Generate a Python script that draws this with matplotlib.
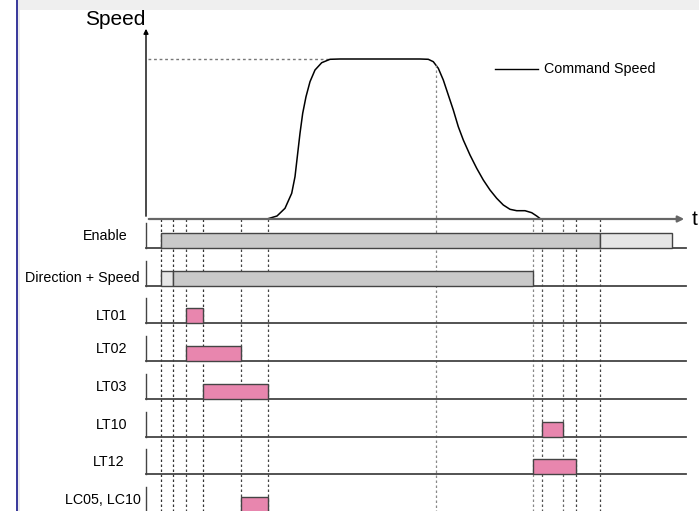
import numpy as np
import matplotlib.pyplot as plt
from matplotlib.patches import Rectangle

plt.rcParams['font.family'] = ['Liberation Sans', 'DejaVu Sans']

# ------------ Data ------------ #

# time events (vertical dotted markers)
events = [15, 27, 40, 57, 95, 122, 290, 387, 396, 417, 430, 454]
event_tops = [0, 0, 0, 0, 0, 0, 154, 0, 0, 0, 0, 0]

# command speed profile
speed_t = [121, 131, 139, 145.7, 149, 151.3, 154, 156.7, 160, 164, 169, 175.7, 184, 194,
           274, 282.3, 287.3, 292.3, 297.3, 302.3, 307.3, 312.3, 317.3, 324, 330.7, 337.3,
           344, 350.7, 357.3, 364, 370.7, 379, 385.7, 390.7, 394.7]
speed_v = [0, 3, 10.7, 25.7, 42.3, 62.3, 85.7, 105.7, 122.3, 137.3, 149, 156.3, 159.7, 160,
           160, 159.7, 157.3, 150.7, 139, 124, 109, 92.3, 79, 64, 50.7, 39,
           29, 20.7, 14, 9.7, 8.3, 8.3, 6.3, 3, 0]
v_max = 160

rows = ["Enable", "Direction + Speed", "LT01", "LT02", "LT03", "LT10", "LT12", "LC05, LC10"]

# (row, start, end, kind)
bars = [
    (0, 15, 454, "on"),
    (0, 454, 526, "off"),
    (1, 15, 27, "off"),
    (1, 27, 387, "on"),
    (2, 40, 57, "pulse"),
    (3, 40, 95, "pulse"),
    (4, 57, 122, "pulse"),
    (5, 396, 417, "pulse"),
    (6, 387, 430, "pulse"),
    (7, 95, 122, "pulse"),
]

# ------------ Style ------------ #

colors = {"on": "#c9c9c9", "off": "#e6e6e6", "pulse": "#e886ae"}
event_colors = ["#333", "#333", "#444", "#333", "#444", "#444",
                "#888", "#888", "#555", "#666", "#444", "#444"]
label_x = [-18, -6, -19, -19, -19, -19, -22, -5]
label_dy = [12, 8, 7, 12, 12, 12, 12, 12]
row0, row_gap, bar_h = -29, 37.7, 15

fig = plt.figure(figsize=(6.99, 5.11), dpi=100)
ax = fig.add_axes([0, 0, 1, 1])
ax.set_xlim(-146, 553)
ax.set_ylim(-292, 219)
ax.axis("off")

# page decoration
ax.add_patch(Rectangle((-128, 209), 700, 12, color="#efefef", lw=0))
ax.add_patch(Rectangle((-128, -300), 2, 520, color="#ececec", lw=0))
ax.add_patch(Rectangle((-130, -300), 2, 520, color="#3c3c9c", lw=0))

# ------------ Speed panel ------------ #

ax.annotate("", xy=(0, 193), xytext=(0, 0),
            arrowprops=dict(arrowstyle="-|>", lw=1, color="black", mutation_scale=7))
ax.annotate("", xy=(541, 0), xytext=(0, 0),
            arrowprops=dict(arrowstyle="-|>", lw=1.6, color="#666", mutation_scale=9))
ax.text(-1, 200, "Speed", fontsize=15, ha="right", va="center")
ax.text(546, 0, "t", fontsize=15, ha="left", va="center")

ax.plot([2, 184], [v_max, v_max], color="#777", lw=1, ls=(0, (2, 2)))
ax.plot(speed_t, speed_v, color="black", lw=1.1)

ax.plot([349, 392], [150, 150], color="black", lw=1)
ax.text(398, 150, "Command Speed", fontsize=10.3, ha="left", va="center")

# ------------ Timing rows ------------ #

for ev, top, c in zip(events, event_tops, event_colors):
    ax.plot([ev, ev], [top, -300], color=c, lw=0.9, ls=(0, (2, 2)))

for i, name in enumerate(rows):
    base = row0 - i * row_gap
    ax.plot([0, 540], [base, base], color="#444", lw=1.3)
    ax.plot([0, 0], [base, base + 25], color="#444", lw=1)
    ax.text(label_x[i], base + label_dy[i], name, fontsize=10.3, ha="right", va="center")

for r, s, e, kind in bars:
    base = row0 - r * row_gap
    ax.bar(s, bar_h, width=e - s, bottom=base, align="edge",
           color=colors[kind], edgecolor="#444", lw=1, zorder=3)

fig.savefig("out.png", dpi=100)
